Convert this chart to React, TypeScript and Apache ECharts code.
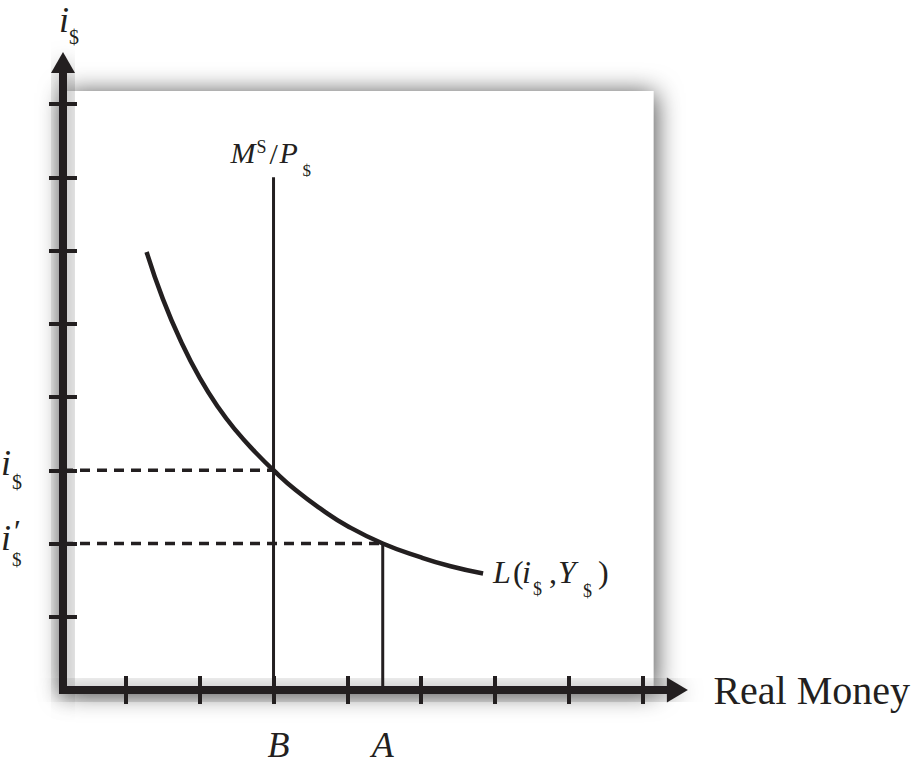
import React, { useEffect, useRef } from "react";
import * as echarts from "echarts";

// ---- data (chart units: one tick = 1 unit) ----
const xTicks = [1, 2, 3, 4, 5, 6, 7, 8];
const yTicks = [1, 2, 3, 4, 5, 6, 7, 8];
const xMin = 0.147;
const xMax = 8.473;
const yMin = 0;
const yMax = 8.567;
const boxRight = 8.147;
const boxTop = 8.177;

// money demand curve L(i$, Y$)
const demandCurve: [number, number][] = [
  [1.28, 5.98], [1.5, 5.34], [1.75, 4.75], [2.0, 4.26], [2.25, 3.86],
  [2.5, 3.53], [2.75, 3.25], [3.0, 3.0], [3.3, 2.73], [3.66, 2.46],
  [4.0, 2.24], [4.48, 2.0], [5.0, 1.81], [5.4, 1.69], [5.84, 1.59],
];
const supplyX = 3; // B
const supplyTop = 7;
const pointAX = 4.48; // A
const rateI = 3; // i$
const rateIPrime = 2; // i'$

const supplyLine: [number, number][] = [[supplyX, 0], [supplyX, supplyTop]];
const aLine: [number, number][] = [[pointAX, 0], [pointAX, rateIPrime]];
const dashI: [number, number][] = [[xMin, rateI], [supplyX, rateI]];
const dashIPrime: [number, number][] = [[xMin, rateIPrime], [pointAX, rateIPrime]];

const INK = "#231f20";
const SERIF = "'Liberation Serif', 'Times New Roman', Times, serif";

export default function App() {
  const ref = useRef<HTMLDivElement>(null);

  useEffect(() => {
    document.documentElement.style.overflow = "hidden";
    document.body.style.margin = "0";
    document.body.style.overflow = "hidden";
    const chart = echarts.init(ref.current!, null, { renderer: "svg" });

    const lineSeries = (name: string, data: [number, number][], width: number, type: any = "solid", smooth: any = false) => ({
      type: "line",
      name,
      data,
      smooth,
      symbol: "none",
      showSymbol: false,
      clip: false,
      silent: true,
      xAxisIndex: 0,
      yAxisIndex: 0,
      z: 3,
      lineStyle: { color: INK, width, type, cap: "butt" },
    });

    const tickStyle = { color: INK, width: 4 };

    chart.setOption({
      animation: false,
      backgroundColor: "#ffffff",
      grid: { left: 63, right: 913 - 687.5, top: 62.5, bottom: 80, containLabel: false },
      xAxis: [
        {
          type: "value", position: "bottom", min: xMin, max: xMax, z: 5,
          name: "Real Money", nameLocation: "end", nameGap: 36,
          nameTextStyle: { fontFamily: SERIF, fontSize: 40, color: INK, align: "left", verticalAlign: "middle", padding: [2, 0, 0, 0] },
          axisLine: { show: true, onZero: false, symbol: ["none", "triangle"], symbolSize: [25, 21],
            lineStyle: { color: INK, width: 7, cap: "square" } },
          axisTick: { show: true, inside: false, length: 14, customValues: xTicks, lineStyle: tickStyle },
          axisLabel: { show: false },
          splitLine: { show: false },
        },
        {
          type: "value", position: "bottom", min: xMin, max: xMax, z: 5,
          axisLine: { show: false, onZero: false },
          axisTick: { show: true, inside: true, length: 14, customValues: xTicks, lineStyle: tickStyle },
          axisLabel: { show: false },
          splitLine: { show: false },
        },
      ],
      yAxis: [
        {
          type: "value", position: "left", min: yMin, max: yMax, z: 5,
          axisLine: { show: true, onZero: false, symbol: ["none", "triangle"], symbolSize: [24, 21],
            lineStyle: { color: INK, width: 7, cap: "square" } },
          axisTick: { show: true, inside: false, length: 14, customValues: yTicks, lineStyle: tickStyle },
          axisLabel: { show: false },
          splitLine: { show: false },
        },
        {
          type: "value", position: "left", min: yMin, max: yMax, z: 5,
          axisLine: { show: false, onZero: false },
          axisTick: { show: true, inside: true, length: 14, customValues: yTicks, lineStyle: tickStyle },
          axisLabel: { show: false },
          splitLine: { show: false },
        },
      ],
      series: [
        lineSeries("L(i$, Y$)", demandCurve, 4.5, "solid", true),
        lineSeries("MS/P$", supplyLine, 3),
        lineSeries("A", aLine, 3),
        lineSeries("i$", dashI, 3.5, [10, 7]),
        lineSeries("i'$", dashIPrime, 3.5, [10, 7]),
      ],
    });

    const P = (x: number, y: number) => chart.convertToPixel({ seriesIndex: 0 }, [x, y]) as number[];

    const txt = (text: string, x: number, baseline: number, size: number, italic = false) => ({
      type: "text",
      x,
      y: baseline - 0.34 * size,
      z: 10,
      silent: true,
      style: {
        text,
        fill: INK,
        font: `${italic ? "italic " : ""}${size}px ${SERIF}`,
        align: "left",
        verticalAlign: "middle",
      },
    });

    const boxBL = P(xMin, 0);
    const boxTR = P(boxRight, boxTop);
    const axisTop = P(xMin, yMax);
    const axisEnd = P(xMax, 0);
    const iA = P(xMin, rateI);
    const iB = P(xMin, rateIPrime);
    const ms = P(supplyX, supplyTop);
    const last = demandCurve[demandCurve.length - 1];
    const lEnd = P(last[0], last[1]);
    const bPt = P(supplyX, 0);
    const aPt = P(pointAX, 0);

    const shadow = { shadowBlur: 22, shadowColor: "rgba(0,0,0,0.6)", shadowOffsetX: 2, shadowOffsetY: 2 };

    chart.setOption({
      graphic: [
        {
          type: "rect", z: -2, silent: true,
          shape: { x: boxBL[0], y: boxTR[1], width: boxTR[0] - boxBL[0], height: boxBL[1] - boxTR[1] },
          style: { fill: "#ffffff", shadowBlur: 26, shadowColor: "rgba(0,0,0,0.72)", shadowOffsetX: 2, shadowOffsetY: 2 },
        },
        // soft shadow casters under the two axes
        {
          type: "rect", z: -1, silent: true,
          shape: { x: axisTop[0] - 4, y: axisTop[1], width: 8, height: boxBL[1] - axisTop[1] + 4 },
          style: { fill: INK, ...shadow },
        },
        {
          type: "rect", z: -1, silent: true,
          shape: { x: boxBL[0] - 4, y: boxBL[1] - 4, width: axisEnd[0] - boxBL[0] + 4, height: 8 },
          style: { fill: INK, ...shadow },
        },
        // top axis title i$
        txt("i", axisTop[0] - 4, axisTop[1] - 30, 36, true),
        txt("$", axisTop[0] + 6, axisTop[1] - 19, 20),
        // i$ on y axis
        txt("i", 1, iA[1] + 5, 36, true),
        txt("$", 12, iA[1] + 19, 20),
        // i'$ on y axis
        txt("i", 1, iB[1] + 6.5, 36, true),
        txt("\u2032", 12, iB[1] - 2, 32, true),
        txt("$", 12, iB[1] + 22, 19),
        // M^S / P$
        txt("M", ms[0] - 43, ms[1] - 15, 30, true),
        txt("S", ms[0] - 17, ms[1] - 24, 18),
        txt("/", ms[0] - 4, ms[1] - 14, 30),
        txt("P", ms[0] + 6, ms[1] - 15, 30, true),
        txt("$", ms[0] + 29, ms[1] - 1, 17),
        // L(i$, Y$)
        txt("L", lEnd[0] + 10, lEnd[1] + 9.5, 32, true),
        txt("(", lEnd[0] + 30, lEnd[1] + 9.5, 32),
        txt("i", lEnd[0] + 39, lEnd[1] + 9.5, 32, true),
        txt("$", lEnd[0] + 50, lEnd[1] + 21.5, 18),
        txt(",", lEnd[0] + 66, lEnd[1] + 9.5, 32),
        txt("Y", lEnd[0] + 75, lEnd[1] + 9.5, 32, true),
        txt("$", lEnd[0] + 100, lEnd[1] + 23.5, 18),
        txt(")", lEnd[0] + 115, lEnd[1] + 9.5, 32),
        // B and A
        txt("B", bPt[0] - 6, bPt[1] + 67, 36, true),
        txt("A", aPt[0] - 11, aPt[1] + 67, 36, true),
      ],
    });

    return () => chart.dispose();
  }, []);

  return (
    <div
      ref={ref}
      style={{ position: "fixed", left: 0, top: 0, width: 913, height: 770, background: "#fff", overflow: "hidden" }}
    />
  );
}
